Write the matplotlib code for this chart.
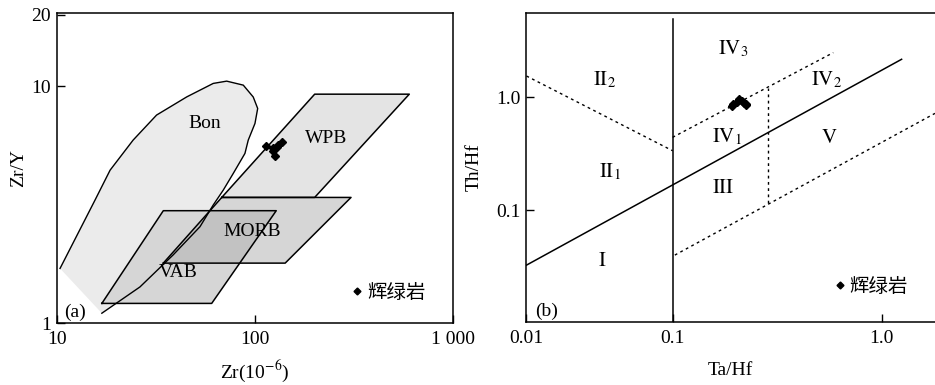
import matplotlib
matplotlib.use('Agg')
import matplotlib.pyplot as plt
from matplotlib.patches import Polygon
from matplotlib.lines import Line2D
from matplotlib.ticker import FixedLocator, FixedFormatter, NullLocator

plt.rcParams['font.family'] = ['Liberation Serif', 'Noto Sans CJK SC']
plt.rcParams['mathtext.fontset'] = 'stix'
plt.rcParams['font.size'] = 14

# (a) Zr - Zr/Y fields
bon_zr = [10.4, 15.6, 18.6, 24.3, 31.9, 45.3, 61.6, 72.0, 87.3, 98.0, 103.2, 100.0, 92.5, 89.0, 77.7, 69.2, 61.6, 52.8, 38.7, 26.3, 16.9]
bon_zry = [1.70, 3.30, 4.42, 5.92, 7.55, 9.01, 10.27, 10.5, 10.1, 9.0, 8.05, 6.96, 5.92, 5.2, 4.28, 3.64, 3.15, 2.55, 1.94, 1.42, 1.10]
wpb_zr = [68, 200, 600, 200]
wpb_zry = [3.39, 9.25, 9.25, 3.39]
morb_zr = [34.5, 68, 305, 142]
morb_zry = [1.79, 3.39, 3.39, 1.79]
vab_zr = [16.9, 34.5, 128, 60.5]
vab_zry = [1.21, 2.98, 2.98, 1.21]

sample_zr = [113.6, 123.7, 131.1, 136.3, 126.2, 122.8, 128.7]
sample_zry = [5.58, 5.46, 5.64, 5.82, 5.07, 5.33, 5.54]

# (b) Ta/Hf - Th/Hf boundaries
solid_ta = [0.02, 1.246]
solid_th = [0.0326, 2.157]
vert_ta = [0.1, 0.1]
vert_th = [0.0103, 4.87]
d1_ta = [0.02, 0.1]
d1_th = [1.534, 0.335]
d2_ta = [0.1, 0.587]
d2_th = [0.44, 2.47]
d3_ta = [0.287, 0.287]
d3_th = [0.1147, 1.19]
d4_ta = [0.1025, 1.8]
d4_th = [0.04, 0.717]

sample_ta = [0.1915, 0.2024, 0.2076, 0.2153, 0.2235, 0.2202, 0.195, 0.2247]
sample_th = [0.832, 0.909, 0.954, 0.922, 0.85, 0.890, 0.867, 0.867]

legend_label = '辉绿岩'

fig = plt.figure(figsize=(9.35, 3.85), dpi=100)
ax1 = fig.add_axes([0.0606, 0.1610, 0.4242, 0.8044])
ax2 = fig.add_axes([0.5626, 0.1644, 0.4374, 0.8010])

# ---- panel a
ax1.set_xscale('log')
ax1.set_yscale('log')
ax1.set_xlim(10, 1000)
ax1.set_ylim(1, 20.3)

ax1.add_patch(Polygon(list(zip(bon_zr, bon_zry)), closed=True, facecolor='#ebebeb', edgecolor='none', zorder=1))
ax1.add_patch(Polygon(list(zip(wpb_zr, wpb_zry)), closed=True, facecolor='#e4e4e4', edgecolor='none', zorder=2))
morb = Polygon(list(zip(morb_zr, morb_zry)), closed=True, facecolor='#d6d6d6', edgecolor='none', zorder=2)
ax1.add_patch(morb)
ax1.add_patch(Polygon(list(zip(vab_zr, vab_zry)), closed=True, facecolor='#d6d6d6', edgecolor='none', zorder=3))
overlap = Polygon(list(zip(vab_zr, vab_zry)), closed=True, facecolor='#c2c2c2', edgecolor='none', zorder=3.5)
ax1.add_patch(overlap)
overlap.set_clip_path(morb)

ax1.plot(bon_zr, bon_zry, color='black', lw=1.0, zorder=5)
for xs, ys in [(wpb_zr, wpb_zry), (morb_zr, morb_zry), (vab_zr, vab_zry)]:
    ax1.plot(xs + xs[:1], ys + ys[:1], color='black', lw=1.1, zorder=5)

ax1.plot(sample_zr, sample_zry, 'D', color='black', ms=4.5, ls='none', zorder=6)

ax1.text(56, 6.98, 'Bon', ha='center', va='center', zorder=7)
ax1.text(228, 6.03, 'WPB', ha='center', va='center', zorder=7)
ax1.text(97.3, 2.43, 'MORB', ha='center', va='center', zorder=7)
ax1.text(41, 1.63, 'VAB', ha='center', va='center', zorder=7)
ax1.text(0.019, 0.036, '(a)', transform=ax1.transAxes, ha='left', va='center')

ax1.xaxis.set_major_locator(FixedLocator([10, 100, 1000]))
ax1.xaxis.set_major_formatter(FixedFormatter(['10', '100', '1 000']))
ax1.yaxis.set_major_locator(FixedLocator([1, 10, 20]))
ax1.yaxis.set_major_formatter(FixedFormatter(['1', '10', '20']))
ax1.set_xlabel('Zr(10$^{-6}$)', labelpad=7)
ax1.set_ylabel('Zr/Y', labelpad=3)

h1 = Line2D([], [], marker='D', color='black', ls='none', ms=3.5)
ax1.legend([h1], [legend_label], loc='center right', bbox_to_anchor=(0.955, 0.096),
           frameon=False, borderpad=0, handlelength=0.6, handletextpad=0.2, fontsize=14)

# ---- panel b
ax2.set_xscale('log')
ax2.set_yscale('log')
ax2.set_xlim(0.0199, 1.8)
ax2.set_ylim(0.0103, 5.5)

ax2.plot(solid_ta, solid_th, color='black', lw=1.1)
ax2.plot(vert_ta, vert_th, color='black', lw=1.1)
for xs, ys in [(d1_ta, d1_th), (d2_ta, d2_th), (d3_ta, d3_th), (d4_ta, d4_th)]:
    ax2.plot(xs, ys, color='black', lw=1.0, ls=(0, (2, 2.5)))

ax2.plot(sample_ta, sample_th, 'D', color='black', ms=4.5, ls='none', zorder=6)

ax2.text(0.195, 2.64, r'$\mathrm{IV}_3$', ha='center', va='center', fontsize=15)
ax2.text(0.0471, 1.414, r'$\mathrm{II}_2$', ha='center', va='center', fontsize=15)
ax2.text(0.5455, 1.414, r'$\mathrm{IV}_2$', ha='center', va='center', fontsize=15)
ax2.text(0.1813, 0.44, r'$\mathrm{IV}_1$', ha='center', va='center', fontsize=15)
ax2.text(0.5615, 0.431, r'$\mathrm{V}$', ha='center', va='center', fontsize=15)
ax2.text(0.0501, 0.218, r'$\mathrm{II}_1$', ha='center', va='center', fontsize=15)
ax2.text(0.1746, 0.1556, r'$\mathrm{III}$', ha='center', va='center', fontsize=15)
ax2.text(0.0462, 0.0349, r'$\mathrm{I}$', ha='center', va='center', fontsize=15)
ax2.text(0.022, 0.035, '(b)', transform=ax2.transAxes, ha='left', va='center')

# the reference labels its left edge "0.01"
ax2.xaxis.set_major_locator(FixedLocator([0.0199, 0.1, 1.0]))
ax2.xaxis.set_major_formatter(FixedFormatter(['0.01', '0.1', '1.0']))
ax2.yaxis.set_major_locator(FixedLocator([0.1, 1.0]))
ax2.yaxis.set_major_formatter(FixedFormatter(['0.1', '1.0']))
ax2.set_xlabel('Ta/Hf', labelpad=11)
ax2.set_ylabel('Th/Hf', labelpad=10)
ax2.spines['right'].set_visible(False)

h2 = Line2D([], [], marker='D', color='black', ls='none', ms=3.5)
ax2.legend([h2], [legend_label], loc='center right', bbox_to_anchor=(0.958, 0.1135),
           frameon=False, borderpad=0, handlelength=0.6, handletextpad=0.2, fontsize=14)

for ax in (ax1, ax2):
    ax.xaxis.set_minor_locator(NullLocator())
    ax.yaxis.set_minor_locator(NullLocator())
    ax.tick_params(direction='in', length=6, width=1, labelsize=14, pad=6)
    ax.tick_params(axis='y', pad=4)
    for s in ax.spines.values():
        s.set_linewidth(1.1)

fig.savefig('out.png', dpi=100)
